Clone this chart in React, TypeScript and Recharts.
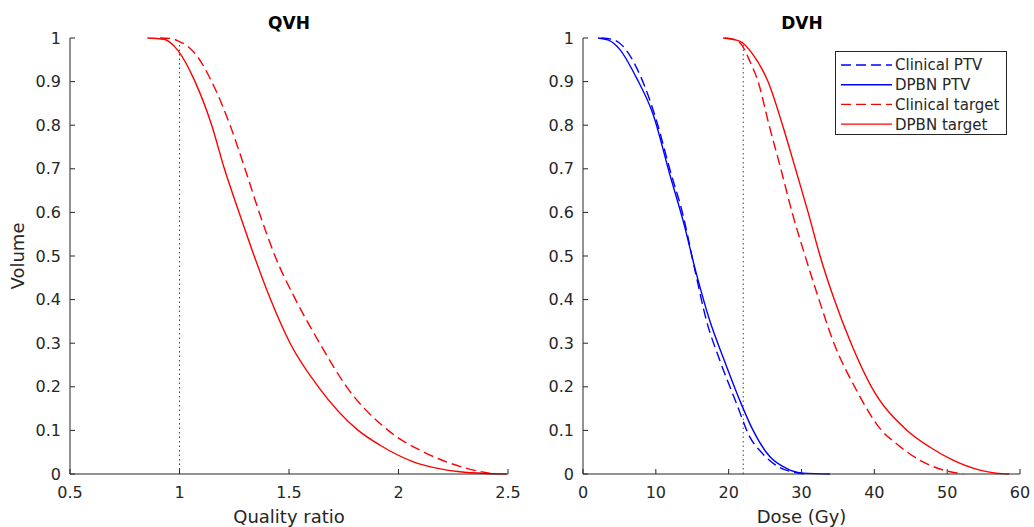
import React from 'react';
import { LineChart, Line, XAxis, YAxis, Legend } from 'recharts';

// QVH: quality ratio vs volume
const qvhClinicalX = [0.911, 0.96, 0.995, 1.04, 1.078, 1.147, 1.231, 1.299, 1.364, 1.436, 1.53, 1.64, 1.763, 1.953, 2.129, 2.311, 2.433];
const qvhClinicalY = [1, 0.999, 0.993, 0.98, 0.96, 0.9, 0.8, 0.7, 0.6, 0.5, 0.4, 0.3, 0.2, 0.1, 0.047, 0.013, 0];
const qvhDpbnX = [0.853, 0.93, 0.957, 0.995, 1.071, 1.147, 1.205, 1.272, 1.341, 1.416, 1.505, 1.634, 1.816, 1.916, 2.068, 2.18, 2.28, 2.4, 2.494];
const qvhDpbnY = [1, 0.997, 0.99, 0.97, 0.9, 0.8, 0.7, 0.6, 0.5, 0.4, 0.3, 0.2, 0.1, 0.066, 0.028, 0.013, 0.005, 0.001, 0];

// DVH: dose (Gy) vs volume
const clinicalPtvX = [2.5, 4, 5.5, 7.8, 10.1, 11.9, 13.7, 15.4, 16.95, 18.8, 21.07, 22.9, 24.7, 27, 29.3, 31];
const clinicalPtvY = [1, 0.997, 0.981, 0.916, 0.81, 0.7, 0.596, 0.465, 0.352, 0.26, 0.162, 0.085, 0.046, 0.015, 0.003, 0];
const dpbnPtvX = [2.06, 3.5, 5.04, 7.33, 9.62, 11.9, 13.74, 15.57, 17.4, 19.23, 21.52, 23.35, 25.64, 27.93, 30.2, 33.9];
const dpbnPtvY = [1, 0.995, 0.974, 0.909, 0.825, 0.688, 0.581, 0.459, 0.352, 0.268, 0.169, 0.1, 0.04, 0.013, 0.002, 0];
const clinicalTargetX = [19.5, 21, 21.75, 22.9, 24.04, 25.55, 27.16, 28.71, 30.5, 32.4, 34.45, 37.3, 41.0, 43.0, 46.2, 49.5, 52.2];
const clinicalTargetY = [1, 0.995, 0.985, 0.947, 0.9, 0.8, 0.7, 0.6, 0.5, 0.4, 0.3, 0.2, 0.1, 0.07, 0.032, 0.009, 0];
const dpbnTargetX = [19.23, 21.5, 23.35, 25.4, 27.4, 29.17, 30.91, 32.55, 34.5, 36.8, 39.6, 44.5, 47.6, 50.8, 54.5, 56.7, 58.5];
const dpbnTargetY = [1, 0.993, 0.962, 0.9, 0.8, 0.7, 0.6, 0.5, 0.4, 0.3, 0.2, 0.1, 0.062, 0.032, 0.009, 0.002, 0];

// threshold markers
const qvhMarkX = [1, 1];
const qvhMarkY = [0, 0.99];
const dvhMarkX = [22, 22];
const dvhMarkY = [0, 0.985];

const volumeTicks = [0, 0.1, 0.2, 0.3, 0.4, 0.5, 0.6, 0.7, 0.8, 0.9, 1];
const qualityTicks = [0.5, 1, 1.5, 2, 2.5];
const doseTicks = [0, 10, 20, 30, 40, 50, 60];

const zip = (xs: number[], ys: number[]) => xs.map((x, i) => ({ x, y: ys[i] }));

const FONT = '"DejaVu Sans", sans-serif';
const INK = '#262626';
const DASH = '10 5';
const LW = 1.4;

const dvhSeries = [
  { name: 'Clinical PTV', color: '#0000ff', dash: DASH, data: zip(clinicalPtvX, clinicalPtvY) },
  { name: 'DPBN PTV', color: '#0000ff', dash: undefined, data: zip(dpbnPtvX, dpbnPtvY) },
  { name: 'Clinical target', color: '#ff0000', dash: DASH, data: zip(clinicalTargetX, clinicalTargetY) },
  { name: 'DPBN target', color: '#ff0000', dash: undefined, data: zip(dpbnTargetX, dpbnTargetY) },
];

const tickStyle = { fontSize: 16, fill: INK, fontFamily: FONT };
const labelStyle = { fontSize: 18, fill: INK, fontFamily: FONT };

function DvhLegend() {
  return (
    <svg width={172} height={84} style={{ display: 'block' }}>
      <rect x={0.5} y={0.5} width={171} height={83} fill="#fff" stroke={INK} strokeWidth={1} />
      {dvhSeries.map((s, i) => {
        const cy = 14 + i * 19.7;
        return (
          <g key={s.name}>
            <line x1={6} x2={57} y1={cy} y2={cy} stroke={s.color} strokeWidth={LW} strokeDasharray={s.dash} />
            <text x={60} y={cy} dy="0.36em" fontSize={15} fontFamily={FONT} fill={INK}>
              {s.name}
            </text>
          </g>
        );
      })}
    </svg>
  );
}

function Title({ text, left }: { text: string; left: number }) {
  return (
    <div
      style={{
        position: 'absolute',
        left: left - 50,
        width: 100,
        top: 13,
        textAlign: 'center',
        fontFamily: FONT,
        fontWeight: 'bold',
        fontSize: 17,
        color: '#000',
        lineHeight: '20px',
      }}
    >
      {text}
    </div>
  );
}

export default function App() {
  return (
    <div style={{ position: 'absolute', left: 0, top: 0, width: 1034, height: 527, background: '#fff' }}>
      <Title text="QVH" left={289} />
      <Title text="DVH" left={802} />

      <div style={{ position: 'absolute', left: 0, top: 0 }}>
        <LineChart width={520} height={527} margin={{ top: 38, right: 12, bottom: 0, left: 0 }}>
          <XAxis
            dataKey="x"
            type="number"
            domain={[0.5, 2.5]}
            ticks={qualityTicks}
            interval={0}
            height={53}
            tick={tickStyle}
            tickSize={-5}
            tickMargin={18}
            stroke={INK}
            label={{ value: 'Quality ratio', position: 'insideBottom', offset: 4, style: labelStyle }}
          />
          <YAxis
            dataKey="y"
            type="number"
            domain={[0, 1]}
            ticks={volumeTicks}
            interval={0}
            width={70}
            tick={tickStyle}
            tickSize={-5}
            tickMargin={14}
            stroke={INK}
            label={{ value: 'Volume', angle: -90, position: 'center', dx: -17, style: labelStyle }}
          />
          <Line
            data={zip(qvhMarkX, qvhMarkY)}
            dataKey="y"
            type="linear"
            stroke="#444"
            strokeWidth={1}
            strokeDasharray="1.5 3"
            dot={false}
            isAnimationActive={false}
          />
          <Line
            data={zip(qvhClinicalX, qvhClinicalY)}
            dataKey="y"
            name="Clinical"
            type="monotone"
            stroke="#ff0000"
            strokeWidth={LW}
            strokeDasharray={DASH}
            dot={false}
            isAnimationActive={false}
          />
          <Line
            data={zip(qvhDpbnX, qvhDpbnY)}
            dataKey="y"
            name="DPBN"
            type="monotone"
            stroke="#ff0000"
            strokeWidth={LW}
            dot={false}
            isAnimationActive={false}
          />
        </LineChart>
      </div>

      <div style={{ position: 'absolute', left: 520, top: 0 }}>
        <LineChart width={514} height={527} margin={{ top: 38, right: 14, bottom: 0, left: 0 }}>
          <XAxis
            dataKey="x"
            type="number"
            domain={[0, 60]}
            ticks={doseTicks}
            interval={0}
            height={53}
            tick={tickStyle}
            tickSize={-5}
            tickMargin={18}
            stroke={INK}
            label={{ value: 'Dose (Gy)', position: 'insideBottom', offset: 4, style: labelStyle }}
          />
          <YAxis
            dataKey="y"
            type="number"
            domain={[0, 1]}
            ticks={volumeTicks}
            interval={0}
            width={63}
            tick={tickStyle}
            tickSize={-5}
            tickMargin={14}
            stroke={INK}
          />
          <Legend
            layout="vertical"
            align="center"
            verticalAlign="middle"
            content={() => <DvhLegend />}
            wrapperStyle={{ top: 51, left: 315, width: 172, height: 84 }}
          />
          <Line
            data={zip(dvhMarkX, dvhMarkY)}
            dataKey="y"
            type="linear"
            stroke="#444"
            strokeWidth={1}
            strokeDasharray="1.5 3"
            dot={false}
            legendType="none"
            isAnimationActive={false}
          />
          {dvhSeries.map((s) => (
            <Line
              key={s.name}
              data={s.data}
              dataKey="y"
              name={s.name}
              type="monotone"
              stroke={s.color}
              strokeWidth={LW}
              strokeDasharray={s.dash}
              dot={false}
              isAnimationActive={false}
            />
          ))}
        </LineChart>
      </div>
    </div>
  );
}
